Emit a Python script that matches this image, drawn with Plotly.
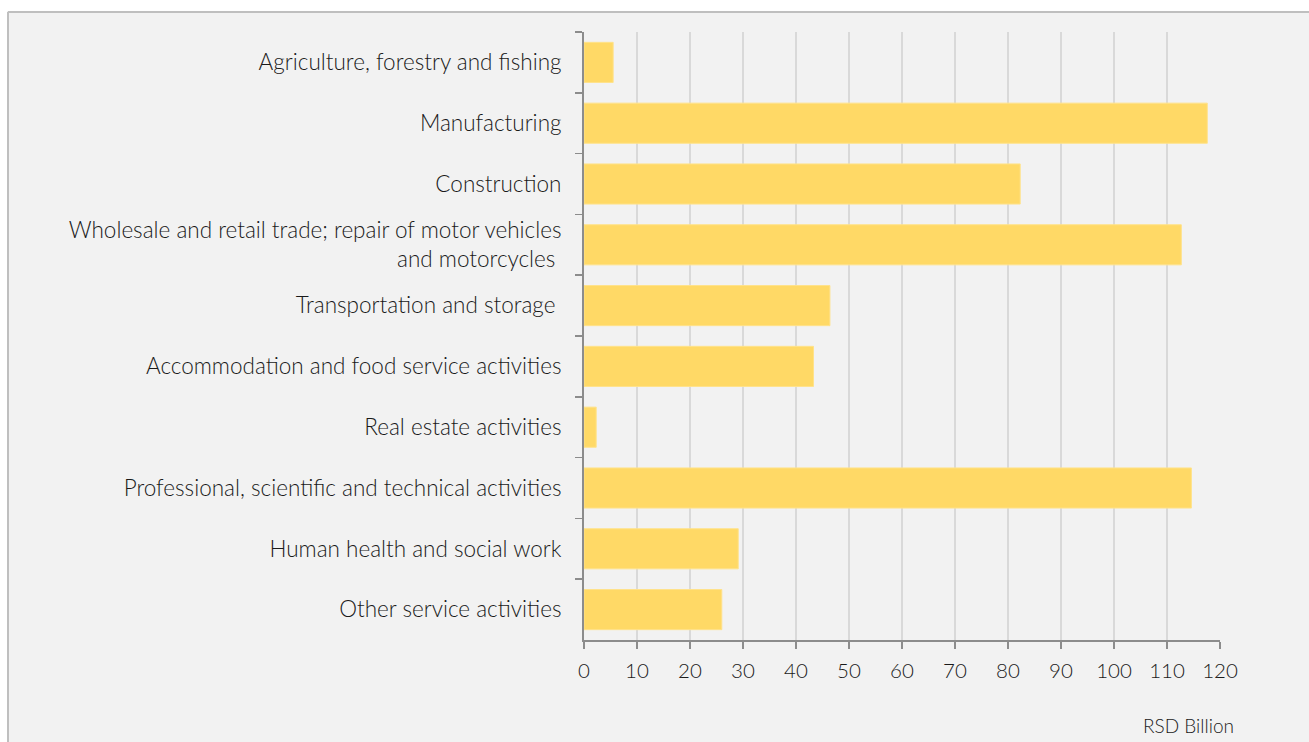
import plotly.graph_objects as go

categories = [
    "Agriculture, forestry and fishing",
    "Manufacturing",
    "Construction",
    "Wholesale and retail trade; repair of motor vehicles<br>and motorcycles\u00a0",
    "Transportation and storage\u00a0",
    "Accommodation and food service activities",
    "Real estate activities",
    "Professional, scientific and technical activities",
    "Human health and social work",
    "Other service activities",
]
values = [5.5, 117.6, 82.3, 112.7, 46.4, 43.3, 2.3, 114.6, 29.1, 26.0]
x_ticks = list(range(0, 121, 10))
unit_label = "RSD Billion"

W, H = 1309, 742
L, R, T, B = 584, 1220, 32, 640


def px(x):
    return (x - L) / (R - L)


def py(y):
    return (B - y) / (B - T)


FONT = "Lato"
TXT = "#1a1a1a"
AXIS = "#8c8c8c"

fig = go.Figure(
    go.Bar(
        x=values,
        y=categories,
        orientation="h",
        marker=dict(color="#ffd966", line=dict(color="#ffe28a", width=1)),
        width=0.66,
    )
)

fig.update_layout(
    width=W,
    height=H,
    margin=dict(l=L, r=W - R, t=T, b=H - B),
    paper_bgcolor="#f2f2f2",
    plot_bgcolor="#f2f2f2",
    showlegend=False,
    font=dict(family=FONT, size=22, color=TXT, weight=300),
    xaxis=dict(
        range=[0, 120],
        tickmode="array",
        tickvals=x_ticks,
        ticktext=[str(v) for v in x_ticks],
        ticks="outside",
        ticklen=7,
        tickwidth=1.5,
        tickcolor=AXIS,
        showline=True,
        linecolor=AXIS,
        linewidth=2,
        showgrid=True,
        gridcolor="#d9d9d9",
        gridwidth=1.5,
        zeroline=False,
        ticklabelstandoff=4,
        tickfont=dict(family=FONT, size=20.5, color=TXT, weight=300),
        fixedrange=True,
    ),
    yaxis=dict(
        autorange="reversed",
        ticks="outside",
        tickson="boundaries",
        ticklen=7,
        tickwidth=1.5,
        tickcolor=AXIS,
        showline=True,
        linecolor=AXIS,
        linewidth=2,
        showgrid=False,
        ticklabelstandoff=16,
        tickfont=dict(family=FONT, size=22.5, color=TXT, weight=300),
        fixedrange=True,
    ),
    shapes=[
        dict(type="rect", xref="paper", yref="paper",
             x0=px(0), x1=px(W), y0=py(11), y1=py(0),
             fillcolor="white", line=dict(width=0), layer="above"),
        dict(type="rect", xref="paper", yref="paper",
             x0=px(0), x1=px(7), y0=py(H), y1=py(0),
             fillcolor="white", line=dict(width=0), layer="above"),
        dict(type="line", xref="paper", yref="paper",
             x0=px(8), x1=px(8), y0=py(H), y1=py(12),
             line=dict(color="#bfbfbf", width=2), layer="above"),
        dict(type="line", xref="paper", yref="paper",
             x0=px(8), x1=px(W), y0=py(12), y1=py(12),
             line=dict(color="#bfbfbf", width=2), layer="above"),
    ],
    annotations=[
        dict(text=unit_label, xref="paper", yref="paper",
             x=px(1236), y=py(725), xanchor="right", yanchor="middle",
             showarrow=False, font=dict(family=FONT, size=19, color=TXT, weight=300)),
    ],
)

fig.write_html(
    "out.html",
    config={"displayModeBar": False, "staticPlot": True},
    post_script="document.body.style.margin='0';document.body.style.overflow='hidden';",
)
